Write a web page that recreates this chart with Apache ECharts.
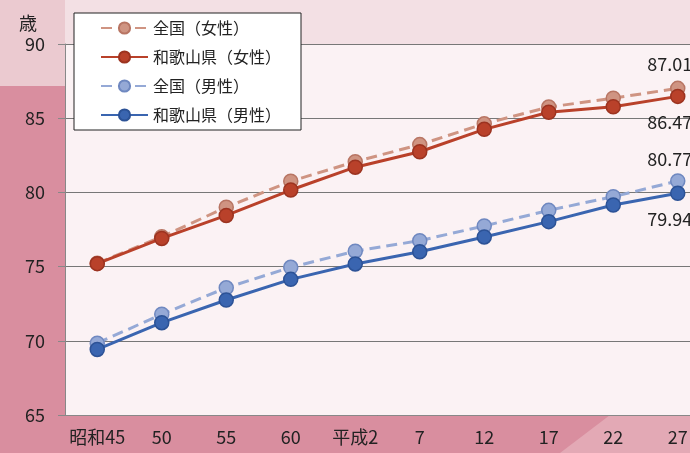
<!DOCTYPE html>
<html>
<head>
<meta charset="utf-8">
<script src="https://cdn.jsdelivr.net/npm/echarts@6/dist/echarts.min.js"></script>
<style>
  html, body { margin: 0; padding: 0; }
  #chart { width: 690px; height: 453px; }
</style>
</head>
<body>
<div id="chart"></div>
<script>
// 年（昭和45 〜 平成27）
const years = ['昭和45', '50', '55', '60', '平成2', '7', '12', '17', '22', '27']

// 平均寿命
const zenkokuJosei = [75.23, 77.01, 79.00, 80.75, 82.07, 83.22, 84.62, 85.75, 86.35, 87.01]
const wakayamaJosei = [75.20, 76.90, 78.45, 80.16, 81.70, 82.74, 84.25, 85.40, 85.77, 86.47]
const zenkokuDansei = [69.84, 71.79, 73.57, 74.95, 76.04, 76.75, 77.74, 78.79, 79.71, 80.77]
const wakayamaDansei = [69.42, 71.22, 72.75, 74.14, 75.18, 76.00, 77.00, 78.03, 79.15, 79.94]

const font = '"Noto Sans CJK JP", sans-serif'

const chart = echarts.init(document.getElementById('chart'))

// only the last point gets a value label
function lastLabel(data, pos, offset) {
  return data.map((v, i) => i < data.length - 1 ? v : {
    value: v,
    label: {
      show: true, position: pos, offset: offset,
      formatter: v.toFixed(2), fontSize: 18, color: '#222', fontFamily: font
    }
  })
}

function line(name, data, color, border, dashed, pos, offset) {
  return {
    name: name,
    type: 'line',
    data: lastLabel(data, pos, offset),
    symbol: 'circle',
    symbolSize: 14,
    z: dashed ? 3 : 4,
    lineStyle: { color: color, width: 3, type: dashed ? [11, 6] : 'solid' },
    itemStyle: { color: color, borderColor: border, borderWidth: 1.5 }
  }
}

chart.setOption({
  animation: false,
  backgroundColor: '#d98e9f',
  textStyle: { fontFamily: font },
  graphic: [
    { type: 'rect', shape: { x: 0, y: 0, width: 690, height: 86 }, style: { fill: '#ebcad0' }, z: -10, silent: true },
    { type: 'rect', shape: { x: 65, y: 0, width: 625, height: 44 }, style: { fill: '#f3e0e4' }, z: -9, silent: true },
    { type: 'polygon', shape: { points: [[560, 453], [610, 415], [690, 415], [690, 453]] }, style: { fill: '#e3a9b5' }, z: -9, silent: true }
  ],
  legend: {
    orient: 'vertical',
    left: 74,
    top: 13,
    padding: [7, 20, 7, 26],
    itemWidth: 47,
    itemHeight: 14,
    itemGap: 13,
    backgroundColor: '#fff',
    borderColor: '#222',
    borderWidth: 1,
    textStyle: { fontSize: 16, color: '#222', fontFamily: font }
  },
  grid: {
    left: 65,
    top: 44,
    bottom: 38,
    width: 645,
    outerBoundsMode: 'none',
    containLabel: false,
    show: true,
    backgroundColor: '#fbf2f4',
    borderWidth: 0
  },
  xAxis: {
    type: 'category',
    data: years,
    boundaryGap: true,
    axisLine: { lineStyle: { color: '#888', width: 1 } },
    axisTick: { show: false },
    axisLabel: { interval: 0, fontSize: 18, color: '#222', margin: 13, fontFamily: font, hideOverlap: false }
  },
  yAxis: {
    type: 'value',
    name: '歳',
    nameLocation: 'end',
    nameGap: 12,
    nameTextStyle: { fontSize: 18, color: '#222', align: 'right', padding: [0, 28, 0, 0] },
    min: 65,
    max: 90,
    interval: 5,
    axisLine: { show: true, lineStyle: { color: '#888' } },
    axisTick: { show: true, inside: false, length: 7, lineStyle: { color: '#888' } },
    axisLabel: { fontSize: 18, color: '#222', margin: 20, fontFamily: font },
    splitLine: { lineStyle: { color: '#777', width: 1 } }
  },
  series: [
    line('全国（女性）', zenkokuJosei, '#cf9482', '#b87563', true, 'top', [-8, -2]),
    line('和歌山県（女性）', wakayamaJosei, '#b9412a', '#9c3320', false, 'bottom', [-8, 4]),
    line('全国（男性）', zenkokuDansei, '#95a9d6', '#6f88c0', true, 'top', [-8, 0]),
    line('和歌山県（男性）', wakayamaDansei, '#3a65b0', '#2c5296', false, 'bottom', [-8, 4])
  ]
})
</script>
</body>
</html>
